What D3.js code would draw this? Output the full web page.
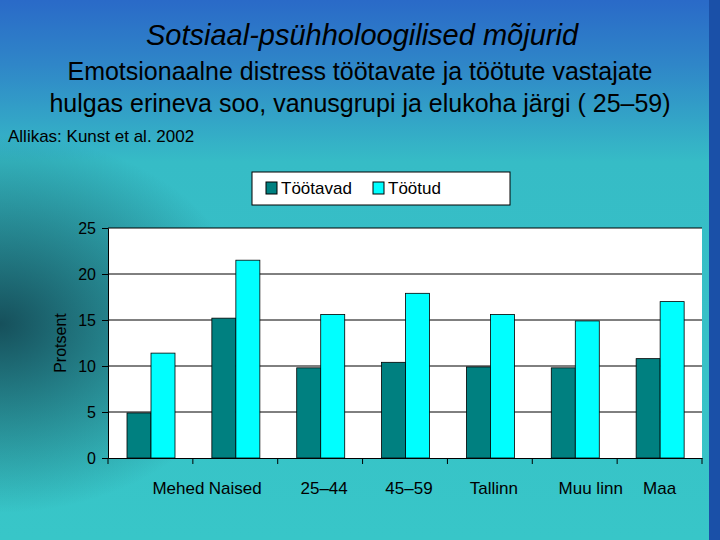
<!DOCTYPE html><html><head><meta charset="utf-8"><script src="https://cdn.jsdelivr.net/npm/d3@7"></script>
<style>body{margin:0}svg{display:block}</style></head><body><svg id="c" width="720" height="540"></svg>
<script>
const categories=["Mehed","Naised","25–44","45–59","Tallinn","Muu linn","Maa"];
const tootavad=[4.9,15.2,9.8,10.4,9.9,9.8,10.8];
const tootud=[11.4,21.5,15.6,17.9,15.6,14.9,17.0];
const seriesNames=["Töötavad","Töötud"];
const seriesColors=["#008080","#00ffff"];
const yTicks=[0,5,10,15,20,25];
const svg=d3.select("#c");
const defs=svg.append("defs");
const lg=defs.append("linearGradient").attr("id","bg").attr("x1",0).attr("y1",0).attr("x2",0).attr("y2",1);
[[0,"#2a6ac8"],[0.12,"#2f86c8"],[0.3,"#36bcc6"],[1,"#38c6c8"]].forEach(s=>lg.append("stop").attr("offset",s[0]).attr("stop-color",s[1]));
const rg=defs.append("radialGradient").attr("id","dk").attr("cx",0).attr("cy",0.6).attr("r",0.35);
rg.append("stop").attr("offset",0).attr("stop-color","#103c48").attr("stop-opacity",0.85);
rg.append("stop").attr("offset",1).attr("stop-color","#103c48").attr("stop-opacity",0);
svg.append("rect").attr("width",720).attr("height",540).attr("fill","url(#bg)");
svg.append("rect").attr("width",720).attr("height",540).attr("fill","url(#dk)");
svg.append("rect").attr("x",709).attr("width",11).attr("height",540).attr("fill","#1a50a8");
const F="Liberation Sans, Arial, sans-serif";
function txt(x,y,s,size,extra){const t=svg.append("text").attr("x",x).attr("y",y).attr("font-family",F).attr("font-size",size).attr("fill","#000").text(s);if(extra)extra(t);return t;}
txt(362,45,"Sotsiaal-psühholoogilised mõjurid",29,t=>t.attr("text-anchor","middle").attr("font-style","italic"));
txt(360,80,"Emotsionaalne distress töötavate ja töötute vastajate",25,t=>t.attr("text-anchor","middle"));
txt(360,112,"hulgas erineva soo, vanusgrupi ja elukoha järgi ( 25–59)",25,t=>t.attr("text-anchor","middle"));
txt(8,142,"Allikas: Kunst et al. 2002",17);
const L=108,R=702,T=228,B=458;
const x=d3.scaleBand().domain(categories).range([L,R]);
const y=d3.scaleLinear().domain([0,25]).range([B,T]);
svg.append("rect").attr("x",L).attr("y",T).attr("width",R-L).attr("height",B-T).attr("fill","#fff");
svg.append("g").selectAll("line").data(yTicks.filter(d=>d>0)).join("line").attr("x1",L).attr("x2",R).attr("y1",d=>y(d)).attr("y2",d=>y(d)).attr("stroke","#000");
const bw=24, off=19;
[tootavad,tootud].forEach((vals,si)=>{
 svg.append("g").selectAll("rect").data(vals).join("rect")
  .attr("x",(d,i)=>x(categories[i])+off+si*bw).attr("y",d=>y(d)).attr("width",bw).attr("height",d=>B-y(d))
  .attr("fill",seriesColors[si]).attr("stroke","#000").attr("stroke-width",0.8);
});
const ya=svg.append("g").attr("transform",`translate(${L},0)`).call(d3.axisLeft(y).tickValues(yTicks).tickSize(6).tickPadding(6));
ya.selectAll("text").attr("font-family",F).attr("font-size",16).attr("fill","#000");
const xa=svg.append("g").attr("transform",`translate(0,${B})`).call(d3.axisBottom(x).tickSize(0).tickFormat(""));
svg.append("g").selectAll("line").data(categories.concat(["end"])).join("line")
 .attr("x1",(d,i)=>L+i*x.step()).attr("x2",(d,i)=>L+i*x.step()).attr("y1",B).attr("y2",B+6).attr("stroke","#000");
svg.selectAll(".domain").attr("stroke","#000");
const labelShift=[28,0,4,4,4,16,0];
svg.append("g").selectAll("text").data(categories).join("text")
 .attr("x",(d,i)=>x(d)+x.bandwidth()/2+labelShift[i]).attr("y",494).attr("text-anchor","middle")
 .attr("font-family",F).attr("font-size",17).attr("fill","#000").text(d=>d);
txt(0,0,"Protsent",16,t=>t.attr("transform","translate(66,343) rotate(-90)").attr("text-anchor","middle"));
svg.append("rect").attr("x",252).attr("y",172).attr("width",258).attr("height",33).attr("fill","#fff").attr("stroke","#000");
const lx=[266,373];
seriesNames.forEach((n,i)=>{
 svg.append("rect").attr("x",lx[i]).attr("y",182).attr("width",11).attr("height",12).attr("fill",seriesColors[i]).attr("stroke","#000");
 txt(lx[i]+15,194,n,17);
});
</script></body></html>
